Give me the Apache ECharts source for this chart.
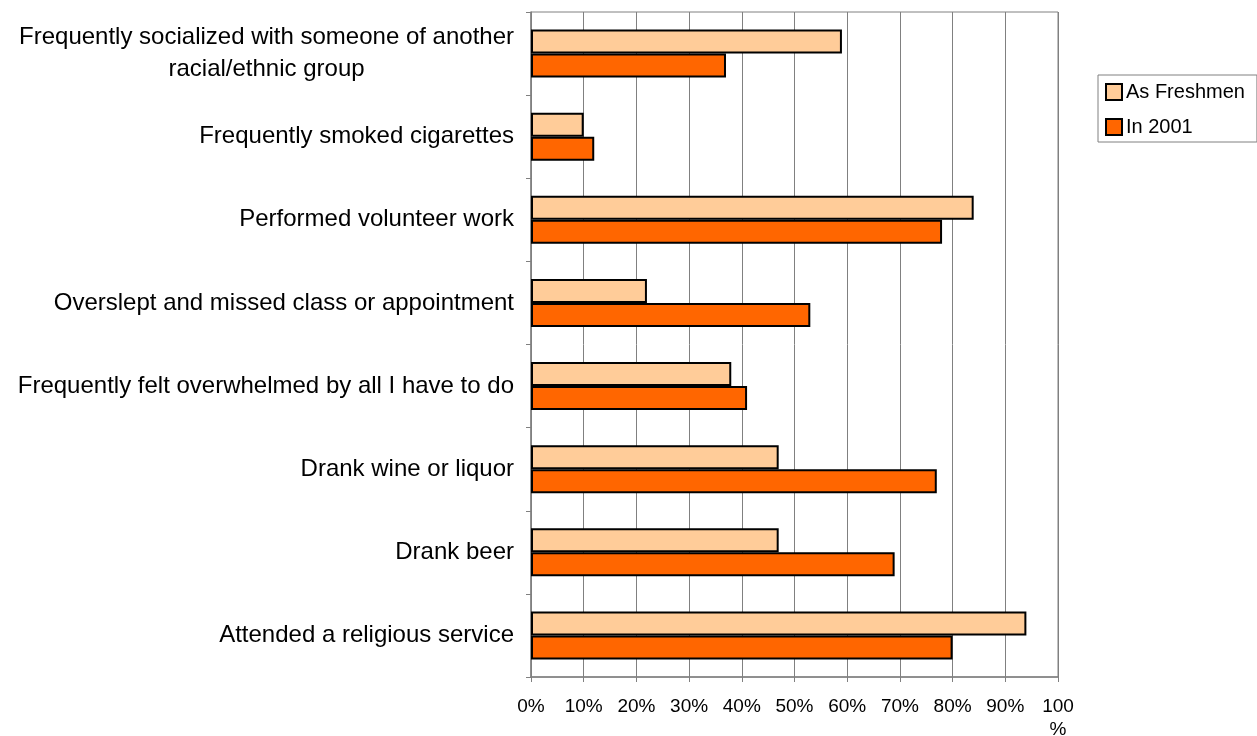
<!DOCTYPE html>
<html>
<head>
<meta charset="utf-8">
<script src="https://cdn.jsdelivr.net/npm/echarts@6/dist/echarts.min.js"></script>
<style>html,body{margin:0;padding:0;background:#fff}#c{width:1257px;height:736px}</style>
</head>
<body>
<div id="c"></div>
<script>
const categories = [
  "{c|Frequently socialized with someone of another}\n{c|racial/ethnic group}",
  "Frequently smoked cigarettes",
  "Performed volunteer work",
  "Overslept and missed class or appointment",
  "Frequently felt overwhelmed by all I have to do",
  "Drank wine or liquor",
  "Drank beer",
  "Attended a religious service"
];
const asFreshmen = [59, 10, 84, 22, 38, 47, 47, 94];
const in2001 = [37, 12, 78, 53, 41, 77, 69, 80];
const xTicks = [0, 10, 20, 30, 40, 50, 60, 70, 80, 90, 100];

const chart = echarts.init(document.getElementById('c'));
const font = 'Liberation Sans, Arial, sans-serif';
chart.setOption({
  animation: false,
  textStyle: { fontFamily: font },
  grid: { left: 531, right: 199, top: 12, bottom: 59, show: true, borderColor: '#808080', borderWidth: 1,
          containLabel: false, outerBoundsMode: 'none' },
  legend: {
    orient: 'vertical', left: 1098, top: 75,
    borderColor: '#808080', borderWidth: 1, padding: [7, 12, 5, 7],
    itemGap: 15, itemWidth: 16, itemHeight: 16,
    icon: 'rect',
    itemStyle: { borderColor: '#000', borderWidth: 2 },
    textStyle: { fontSize: 20, color: '#000', fontFamily: font, padding: [0, 0, 0, -1] },
    data: ['As Freshmen', 'In 2001']
  },
  xAxis: {
    type: 'value', min: 0, max: 100, interval: 10,
    axisLine: { show: true, lineStyle: { color: '#808080', width: 1.5 } },
    axisTick: { show: true, length: 5, lineStyle: { color: '#808080' } },
    splitLine: { show: true, lineStyle: { color: '#808080', width: 1 } },
    axisLabel: {
      fontSize: 19, color: '#000', margin: 18, lineHeight: 23, fontFamily: font,
      formatter: v => xTicks.indexOf(v) >= 0 ? (v === 100 ? '100\n%' : v + '%') : ''
    }
  },
  yAxis: {
    type: 'category', inverse: true, data: categories,
    axisLine: { show: true, lineStyle: { color: '#808080', width: 1.5 } },
    axisTick: { show: true, length: 5, lineStyle: { color: '#808080' } },
    axisLabel: {
      fontSize: 24, color: '#000', margin: 17, lineHeight: 32, fontFamily: font,
      rich: { c: { fontSize: 24, lineHeight: 32, align: 'center', fontFamily: font, color: '#000' } }
    }
  },
  series: [
    { name: 'As Freshmen', type: 'bar', data: asFreshmen, barWidth: 24, barGap: '0%',
      itemStyle: { color: '#FFCC99', borderColor: '#000', borderWidth: 2 } },
    { name: 'In 2001', type: 'bar', data: in2001, barWidth: 24, barGap: '0%',
      itemStyle: { color: '#FF6600', borderColor: '#000', borderWidth: 2 } }
  ]
});
</script>
</body>
</html>
